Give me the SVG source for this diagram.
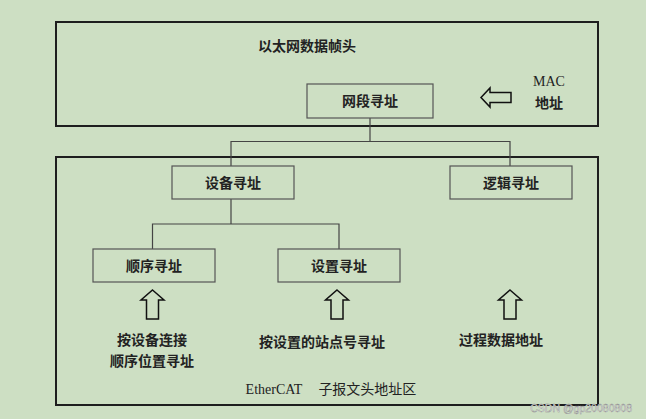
<svg xmlns="http://www.w3.org/2000/svg" width="646" height="419" viewBox="0 0 646 419">
<defs>
<style>
.frame{fill:none;stroke:#1e1e1e;stroke-width:2}
.box{fill:none;stroke:#555;stroke-width:1.2}
.line{fill:none;stroke:#444;stroke-width:1.2}
.harrow{fill:none;stroke:#111;stroke-width:1.5;stroke-linejoin:miter}
.t{font-family:"Liberation Serif","Noto Sans CJK SC",serif;font-size:14px;fill:#222;text-anchor:middle;font-weight:bold}
.tl{font-family:"Liberation Serif","Noto Sans CJK SC",serif;font-size:14px;fill:#222;text-anchor:middle}
.wm{font-family:"Liberation Sans",sans-serif;font-size:10.5px;fill:#f4f4f4;stroke:#8a8a8a;stroke-width:0.4;text-anchor:end}
</style>
</defs>
<rect width="646" height="419" fill="#cddfc3"/>
<g id="ethernet-header">
<rect class="frame" x="56" y="22" width="542" height="104"/>
<text class="t" x="307" y="51">以太网数据帧头</text>
</g>
<g id="mac">
<polygon class="harrow" points="481,97.5 490,88 490,92.5 511,92.5 511,102.5 490,102.5 490,107"/>
<text class="tl" x="549" y="86">MAC</text>
<text class="t" x="549" y="108">地址</text>
</g>
<g id="ethercat-header">
<rect class="frame" x="56" y="157" width="542" height="248"/>
<text class="tl" x="331" y="394">EtherCAT<tspan dx="16">子报文头地址区</tspan></text>
</g>
<g id="connectors">
<polyline class="line" points="370,118 370,141.5"/>
<polyline class="line" points="231,166 231,141.5 510,141.5 510,166"/>
<polyline class="line" points="231,199 231,224"/>
<polyline class="line" points="152.5,249 152.5,224 339,224 339,249"/>
</g>
<g id="segment-addr">
<rect class="box" x="307" y="84" width="126" height="34"/>
<text class="t" x="370" y="106">网段寻址</text>
</g>
<g id="device-addr">
<rect class="box" x="172" y="166" width="122" height="33"/>
<text class="t" x="233" y="188">设备寻址</text>
</g>
<g id="logical-addr">
<rect class="box" x="450" y="166" width="122" height="33"/>
<text class="t" x="511" y="188">逻辑寻址</text>
</g>
<g id="sequence-addr">
<rect class="box" x="93" y="249" width="122" height="33"/>
<text class="t" x="154" y="271">顺序寻址</text>
</g>
<g id="set-addr">
<rect class="box" x="278" y="249" width="122" height="33"/>
<text class="t" x="339" y="271">设置寻址</text>
</g>
<g id="seq-note">
<polygon class="harrow" points="152.5,290 164,300 158.5,300 158.5,319 146.5,319 146.5,300 141,300"/>
<text class="t" x="152" y="345">按设备连接</text>
<text class="t" x="152" y="366">顺序位置寻址</text>
</g>
<g id="set-note">
<polygon class="harrow" points="337,290 348.5,300 343,300 343,319 331,319 331,300 325.5,300"/>
<text class="t" x="322" y="347">按设置的站点号寻址</text>
</g>
<g id="logic-note">
<polygon class="harrow" points="510,290 521.5,300 516,300 516,319 504,319 504,300 498.5,300"/>
<text class="t" x="501" y="345">过程数据地址</text>
</g>
<text class="wm" x="632" y="412">CSDN @gp20080808</text>
</svg>
